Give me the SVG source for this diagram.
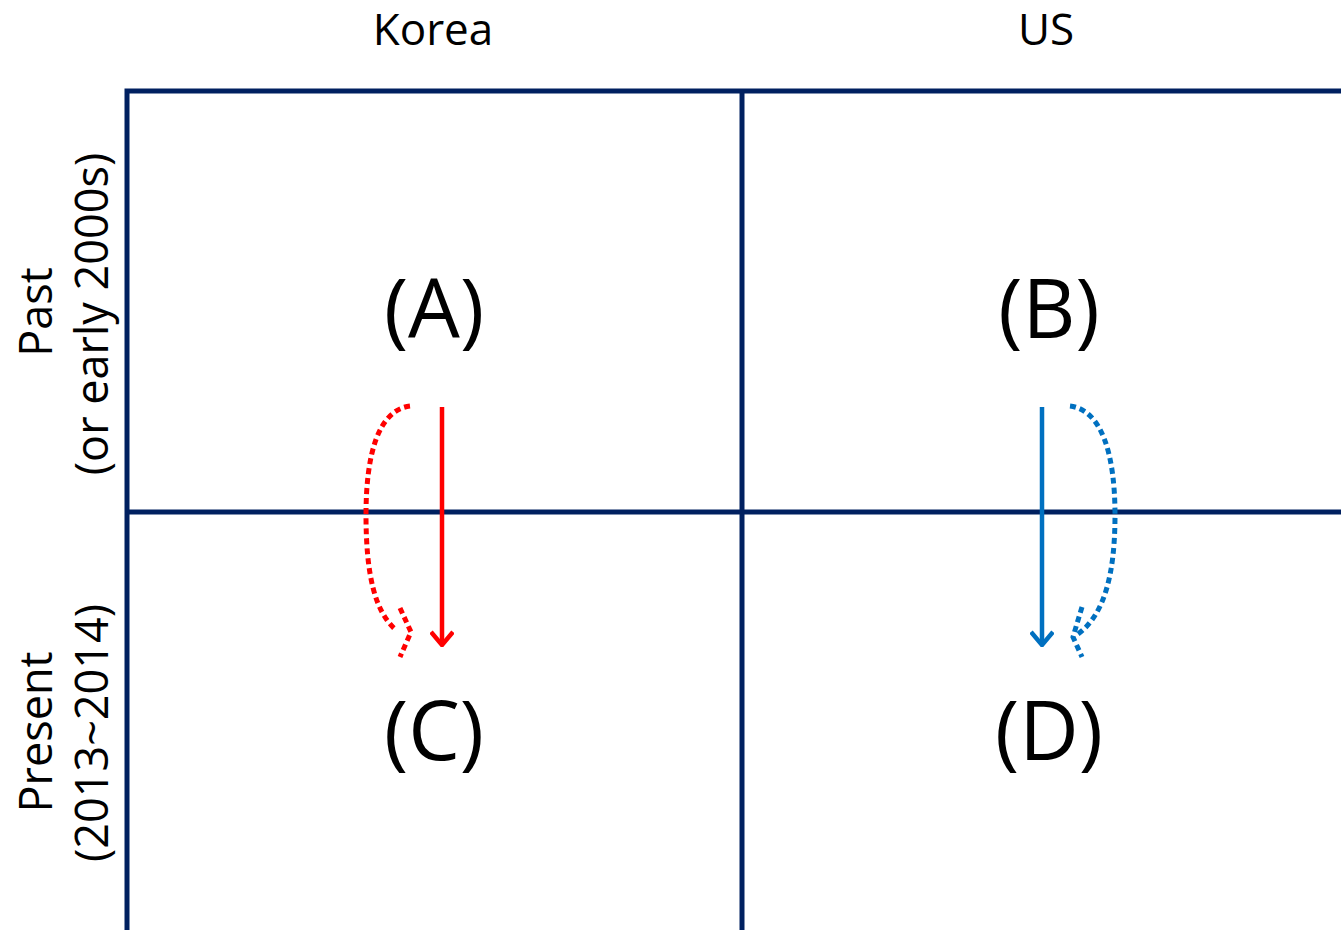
<svg xmlns="http://www.w3.org/2000/svg" width="1341" height="930" viewBox="0 0 1341 930">
<defs>
<style>
.grid{stroke:#002060;stroke-width:5;fill:none}
.lbl{font-family:"Open Sans","Noto Sans",sans-serif;font-size:44px;fill:#000;text-anchor:middle}
.vl{font-family:"Open Sans","Noto Sans",sans-serif;font-size:45px;fill:#000;text-anchor:middle}
.big{font-family:"Open Sans","Noto Sans",sans-serif;font-size:82px;fill:#000;text-anchor:middle}
.red{stroke:#FF0000;stroke-width:4.5;fill:none}
.blue{stroke:#0070C0;stroke-width:4.5;fill:none}
.dot{stroke-width:5;stroke-dasharray:6 4}
</style>
<marker id="hr" viewBox="0 0 20 24" refX="18" refY="12" markerWidth="20" markerHeight="24" markerUnits="userSpaceOnUse" orient="auto">
<path d="M5,1 L18,12 L5,23" fill="none" stroke="#FF0000" stroke-width="4.5"/>
</marker>
<marker id="hb" viewBox="0 0 20 24" refX="18" refY="12" markerWidth="20" markerHeight="24" markerUnits="userSpaceOnUse" orient="auto">
<path d="M5,1 L18,12 L5,23" fill="none" stroke="#0070C0" stroke-width="4.5"/>
</marker>
</defs>
<rect width="1341" height="930" fill="#fff"/>
<g id="grid">
<path class="grid" d="M127,932 V91 H1345"/>
<path class="grid" d="M742,91 V932"/>
<path class="grid" d="M127,512 H1345"/>
</g>
<g id="headers">
<text class="lbl" x="433" y="45">Korea</text>
<text class="lbl" x="1046" y="45">US</text>
<text class="vl" transform="translate(52,312) rotate(-90)">Past</text>
<text class="vl" transform="translate(108,314) rotate(-90)">(or early 2000s)</text>
<text class="vl" transform="translate(52,732) rotate(-90)">Present</text>
<text class="vl" transform="translate(108,733) rotate(-90)">(2013~2014)</text>
</g>
<g id="nodeA"><text class="big" x="434" y="338">(A)</text></g>
<g id="nodeB"><text class="big" x="1049" y="338">(B)</text></g>
<g id="nodeC"><text class="big" x="434" y="760">(C)</text></g>
<g id="nodeD"><text class="big" x="1049" y="760">(D)</text></g>
<g id="connectors">
<path class="red" d="M442,407 V645" marker-end="url(#hr)"/>
<path class="red dot" d="M410,406 C378,410 366,455 366,515 C366,575 375,612 396,630"/>
<path class="red dot" d="M400,608 L411,632 L400,657"/>
<path class="blue" d="M1042,407 V645" marker-end="url(#hb)"/>
<path class="blue dot" d="M1070,406 C1102,410 1115,455 1115,515 C1115,575 1104,615 1078,634"/>
<path class="blue dot" d="M1082,607 L1073,637 L1082,657"/>
</g>
</svg>
